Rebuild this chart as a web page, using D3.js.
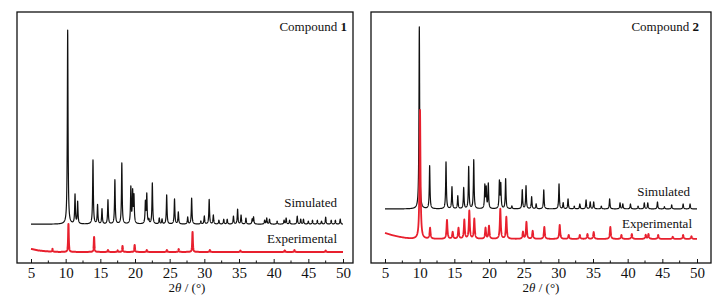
<!DOCTYPE html>
<html>
<head>
<meta charset="utf-8">
<script src="https://cdn.jsdelivr.net/npm/d3@7"></script>
<style>
  body { margin: 0; background: #fff; }
  svg text { font-family: "Liberation Serif", "DejaVu Serif", serif; fill: #111; }
</style>
</head>
<body>
<div id="chart"></div>
<script>
// peak lists: [2theta, relative intensity] (simulated main peak = 100)
const sim1Peaks = [
  [10.29, 100], [11.35, 15], [11.73, 11.3], [13.94, 33], [14.6, 9.8], [15.24, 7.7],
  [16.1, 12.4], [17.1, 22.7], [18.1, 31.4], [19.4, 18.6], [19.66, 16], [19.85, 13.9],
  [21.5, 11], [21.7, 15], [22.0, 2], [22.5, 21.1], [23.5, 3], [23.9, 2.5], [24.57, 15],
  [25.7, 12.9], [26.25, 6.2], [27.6, 3.6], [28.17, 13.4], [29.5, 1.5], [30.0, 4.1],
  [30.7, 12.7], [31.3, 4.6], [32.1, 2], [32.8, 2.5], [33.3, 2.5], [34.2, 4.1], [34.8, 7.7],
  [35.3, 4.6], [36.0, 3.1], [36.9, 2.5], [37.1, 3.6], [38.7, 2], [39.0, 3.1], [39.4, 2.5],
  [40.5, 1.5], [41.5, 2], [41.8, 3.1], [42.3, 2], [43.4, 4.1], [43.9, 2.5], [44.3, 2.5],
  [45.0, 1.5], [45.6, 2], [46.3, 2], [46.9, 1.5], [47.5, 3.6], [48.3, 2], [48.9, 2], [49.6, 2.6]
];
const exp1Peaks = [
  [8.1, 1.5], [10.4, 14.4], [14.1, 7.7], [16.1, 1], [17.5, 0.8], [18.2, 3.1], [19.95, 3.6],
  [21.7, 1], [24.6, 1], [26.3, 1.5], [28.3, 10.3], [30.8, 1], [35.2, 0.7], [41.6, 0.8],
  [43.0, 1], [47.5, 0.7]
];
const exp1Background = [[5, 1.6], [6, 0.8], [7, 0.4], [8, 0.15], [9, 0], [50, 0]];

const sim2Peaks = [
  [9.95, 100], [11.44, 23.6], [13.8, 25.8], [14.66, 12.1], [15.5, 7.1], [16.35, 11.5],
  [17.07, 23.1], [17.8, 26.9], [19.4, 12.6], [19.6, 11], [19.9, 13.7], [21.5, 14.8],
  [21.7, 13.2], [22.4, 16.5], [23.3, 1.5], [24.8, 10.4], [25.34, 12.6], [26.15, 6.6],
  [26.8, 2.7], [27.9, 10.4], [30.1, 13.7], [30.7, 3.3], [31.4, 5.5], [32.3, 1.5], [33.1, 2.7],
  [34.0, 4.9], [34.6, 3.8], [35.1, 3.8], [36.2, 1.5], [37.4, 5.5], [38.9, 3.3], [39.3, 2.7],
  [40.4, 2.7], [41.5, 1.5], [42.4, 3.3], [42.9, 3.3], [44.3, 3.8], [45.3, 1.2], [46.35, 2.2],
  [48.0, 2.7], [49.0, 2.7]
];
const exp2Peaks = [
  [10.05, 70.9], [11.5, 6], [13.94, 10.4], [14.76, 3.8], [15.6, 6], [16.44, 10.4],
  [17.16, 15.4], [17.88, 11], [19.5, 6], [20.0, 7.1], [21.63, 16.5], [22.5, 12.1],
  [24.9, 3.8], [25.4, 9.3], [26.3, 4.4], [27.98, 6.6], [30.2, 7.7], [31.5, 2.2], [33.1, 2.2],
  [34.2, 2.7], [35.1, 3.8], [37.5, 6.6], [39.1, 2.2], [40.6, 2.7], [42.6, 2.2], [43.0, 2.7],
  [44.4, 2.2], [46.5, 1.2], [48.0, 2.2], [49.2, 1.5]
];
const exp2Background = [[5, 3.3], [6, 2.1], [7, 1.2], [8, 0.5], [9, 0.1], [10, 0], [50, 0]];

const xTicks = [5, 10, 15, 20, 25, 30, 35, 40, 45, 50];

const panels = [
  {
    left: 17, right: 353, x0: 31, x1: 343, yMax: 129.4,
    compound: "1", titleX: 347,
    series: [
      { peaks: sim1Peaks, bg: [[5, 0], [50, 0]], offset: 20, hw: 0.06, color: "#111", sw: 1.2, label: "Simulated", lx: 337, ly: 207 },
      { peaks: exp1Peaks, bg: exp1Background, offset: 5.7, hw: 0.05, color: "#e8202e", sw: 2, label: "Experimental", lx: 337, ly: 243 }
    ]
  },
  {
    left: 371, right: 711, x0: 385, x1: 697, yMax: 137.9,
    compound: "2", titleX: 699,
    series: [
      { peaks: sim2Peaks, bg: [[5, 0], [50, 0]], offset: 29.7, hw: 0.06, color: "#111", sw: 1.2, label: "Simulated", lx: 690, ly: 196 },
      { peaks: exp2Peaks, bg: exp2Background, offset: 13.2, hw: 0.08, color: "#e8202e", sw: 1.8, label: "Experimental", lx: 692, ly: 228 }
    ]
  }
];

const plotTop = 12, plotBottom = 263;

const svg = d3.select("#chart").append("svg")
  .attr("width", 725).attr("height", 298);

// Lorentzian sum over the listed peaks, sampled on a fine grid for the path
function profile(s) {
  const bgScale = d3.scaleLinear().domain(s.bg.map(d => d[0])).range(s.bg.map(d => d[1]));
  const pts = [];
  for (let t = 5; t <= 50.0001; t += 0.01) {
    let v = s.offset + bgScale(t);
    s.peaks.forEach(p => {
      const d = (t - p[0]) / s.hw;
      v += p[1] / (1 + d * d);
    });
    pts.push([t, v]);
  }
  return pts;
}

panels.forEach(p => {
  const g = svg.append("g");
  const x = d3.scaleLinear().domain([5, 50]).range([p.x0, p.x1]);
  const y = d3.scaleLinear().domain([0, p.yMax]).range([plotBottom, plotTop]);

  g.append("defs").append("clipPath").attr("id", "clip" + p.compound)
    .append("rect").attr("x", p.left).attr("y", plotTop).attr("width", p.right - p.left).attr("height", plotBottom - plotTop);

  const line = d3.line().x(d => x(d[0])).y(d => y(d[1]));

  p.series.forEach(s => {
    g.append("path")
      .datum(profile(s))
      .attr("d", line)
      .attr("fill", "none")
      .attr("stroke", s.color)
      .attr("stroke-width", s.sw)
      .attr("stroke-linejoin", "round")
      .attr("clip-path", `url(#clip${p.compound})`);

    g.append("text")
      .attr("x", s.lx).attr("y", s.ly)
      .attr("text-anchor", "end")
      .style("font-size", "13px")
      .text(s.label);
  });

  // x axis with inward ticks
  const axis = d3.axisBottom(x).tickValues(xTicks).tickSize(-4).tickPadding(4).tickFormat(d3.format("d"));
  const ag = g.append("g").attr("transform", `translate(0,${plotBottom})`).call(axis);
  ag.select(".domain").remove();
  ag.selectAll("line").attr("stroke", "#111");
  ag.selectAll("text").style("font-size", "15px").style("font-family", "Liberation Serif, serif").attr("fill", "#111");

  const minor = d3.range(7.5, 50, 5);
  g.selectAll(".minor").data(minor).join("line")
    .attr("x1", d => x(d)).attr("x2", d => x(d))
    .attr("y1", plotBottom).attr("y2", plotBottom - 2.5)
    .attr("stroke", "#111");

  // frame
  g.append("rect")
    .attr("x", p.left).attr("y", plotTop)
    .attr("width", p.right - p.left).attr("height", plotBottom - plotTop)
    .attr("fill", "none").attr("stroke", "#111").attr("stroke-width", 1.3);

  // title
  const t = g.append("text")
    .attr("x", p.titleX).attr("y", 31)
    .attr("text-anchor", "end")
    .style("font-size", "13px");
  t.append("tspan").text("Compound ");
  t.append("tspan").style("font-weight", "bold").text(p.compound);

  // axis title
  const xt = g.append("text")
    .attr("x", (p.x0 + p.x1) / 2).attr("y", 292)
    .attr("text-anchor", "middle")
    .style("font-size", "13px");
  xt.append("tspan").text("2");
  xt.append("tspan").style("font-style", "italic").text("θ");
  xt.append("tspan").text(" / (°)");
});
</script>
</body>
</html>
